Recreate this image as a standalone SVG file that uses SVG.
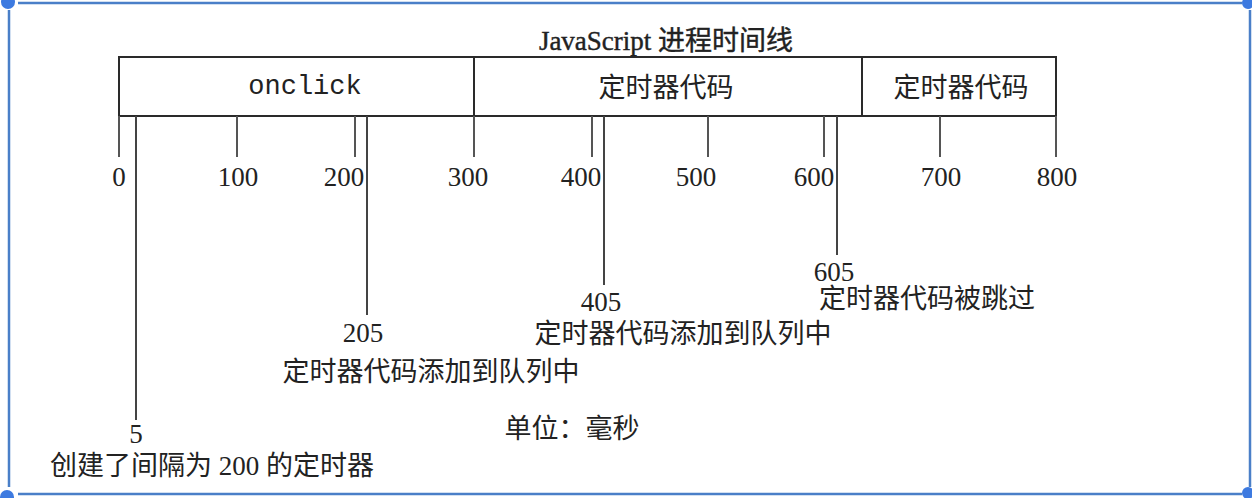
<svg xmlns="http://www.w3.org/2000/svg" width="1252" height="498" viewBox="0 0 1252 498">
<style>
.frame{stroke:#4a7fc8;stroke-width:2.5;fill:none}
.dot{fill:#3d7ae0}
.box{fill:#fff;stroke:#2a2a2a;stroke-width:2}
.tick{stroke:#555;stroke-width:2;fill:none}
.lead{stroke:#444;stroke-width:2;fill:none}
.num{font-family:"Liberation Serif","Noto Sans CJK SC",serif;font-size:27px;fill:#222;text-anchor:middle}
.cjk{font-family:"Liberation Serif","Noto Sans CJK SC",sans-serif;font-size:27px;fill:#222;text-anchor:middle}
.mono{font-family:"Liberation Mono",monospace;font-size:27px;fill:#222;text-anchor:middle}
</style>
<rect width="1252" height="498" fill="#fff"/>
<g id="frame">
<line class="frame" x1="18" y1="3" x2="1242" y2="3"/>
<line class="frame" x1="9" y1="10" x2="9" y2="487"/>
<line class="frame" x1="1250" y1="10" x2="1250" y2="487"/>
<line class="frame" x1="18" y1="494" x2="1242" y2="494"/>
<circle class="dot" cx="8" cy="2" r="7"/>
<circle class="dot" cx="1248" cy="3" r="6"/>
<circle class="dot" cx="7" cy="497" r="7"/>
<circle class="dot" cx="1248" cy="493" r="6"/>
</g>
<g id="title"><text class="cjk" x="666" y="50" font-size="25" stroke="#222" stroke-width="0.4">JavaScript 进程时间线</text></g>
<g id="onclick">
<rect class="box" x="119" y="57" width="355" height="59"/>
<text class="mono" x="305" y="94">onclick</text>
</g>
<g id="timer1">
<rect class="box" x="474" y="57" width="388" height="59"/>
<text class="cjk" x="666" y="97">定时器代码</text>
</g>
<g id="timer2">
<rect class="box" x="862" y="57" width="194" height="59"/>
<text class="cjk" x="961" y="97">定时器代码</text>
</g>
<g id="connectors">
<line class="tick" x1="119" y1="116" x2="119" y2="157"/>
<line class="tick" x1="237" y1="116" x2="237" y2="157"/>
<line class="tick" x1="355" y1="116" x2="355" y2="157"/>
<line class="tick" x1="474" y1="116" x2="474" y2="157"/>
<line class="tick" x1="592" y1="116" x2="592" y2="157"/>
<line class="tick" x1="708" y1="116" x2="708" y2="157"/>
<line class="tick" x1="824" y1="116" x2="824" y2="157"/>
<line class="tick" x1="940" y1="116" x2="940" y2="157"/>
<line class="tick" x1="1056" y1="116" x2="1056" y2="157"/>
<line class="lead" x1="136" y1="116" x2="136" y2="420"/>
<line class="lead" x1="367" y1="116" x2="367" y2="315"/>
<line class="lead" x1="604" y1="116" x2="604" y2="285"/>
<line class="lead" x1="837" y1="116" x2="837" y2="255"/>
</g>
<g id="axis-labels">
<text class="num" x="119" y="186">0</text>
<text class="num" x="238" y="186">100</text>
<text class="num" x="344" y="186">200</text>
<text class="num" x="468" y="186">300</text>
<text class="num" x="581" y="186">400</text>
<text class="num" x="696" y="186">500</text>
<text class="num" x="814" y="186">600</text>
<text class="num" x="941" y="186">700</text>
<text class="num" x="1057" y="186">800</text>
</g>
<g id="event5">
<text class="num" x="136" y="443">5</text>
<text class="cjk" x="50" y="475" style="text-anchor:start">创建了间隔为 200 的定时器</text>
</g>
<g id="event205">
<text class="num" x="363" y="342">205</text>
<text class="cjk" x="431" y="381">定时器代码添加到队列中</text>
</g>
<g id="event405">
<text class="num" x="601" y="311">405</text>
<text class="cjk" x="683" y="343">定时器代码添加到队列中</text>
</g>
<g id="event605">
<text class="num" x="834" y="281">605</text>
<text class="cjk" x="927" y="308">定时器代码被跳过</text>
</g>
<g id="unit"><text class="cjk" x="572" y="438">单位：毫秒</text></g>
</svg>
